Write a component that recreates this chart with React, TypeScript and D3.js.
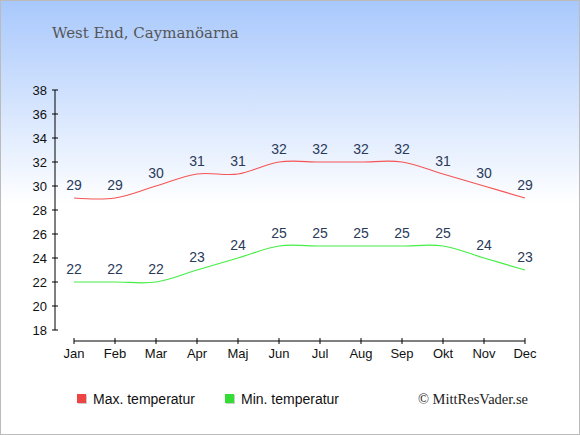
import * as d3 from 'd3';

const months = ['Jan', 'Feb', 'Mar', 'Apr', 'Maj', 'Jun', 'Jul', 'Aug', 'Sep', 'Okt', 'Nov', 'Dec'];
const maxTemp = [29, 29, 30, 31, 31, 32, 32, 32, 32, 31, 30, 29];
const minTemp = [22, 22, 22, 23, 24, 25, 25, 25, 25, 25, 24, 23];
const yTicks = [18, 20, 22, 24, 26, 28, 30, 32, 34, 36, 38];

export default function App() {
  const width = 580;
  const height = 435;

  const xScale = d3.scalePoint<string>().domain(months).range([74, 525]);
  const yScale = d3.scaleLinear().domain([18, 38]).range([330, 90]);

  const line = d3.line<number>()
    .x((_, i) => xScale(months[i])!)
    .y(d => yScale(d))
    .curve(d3.curveCardinal);

  const series = [
    { name: 'Max. temperatur', values: maxTemp, color: '#f55555', legend: '#ee4444', lx: 77 },
    { name: 'Min. temperatur', values: minTemp, color: '#44ee44', legend: '#33dd33', lx: 225 },
  ];

  return (
    <svg width={width} height={height} style={{ position: 'absolute', left: 0, top: 0 }}>
      <defs>
        <linearGradient id="bg" x1="0" y1="0" x2="0" y2="1">
          <stop offset="0" stopColor="#a8c8fc" />
          <stop offset="0.47" stopColor="#ffffff" />
          <stop offset="1" stopColor="#ffffff" />
        </linearGradient>
      </defs>
      <rect x={0.5} y={0.5} width={width - 1} height={height - 1} fill="url(#bg)" stroke="#bbbbbb" />

      {/* Title */}
      <text x={52} y={38} fontFamily="'DejaVu Serif', Georgia, serif" fontSize={15} fill="#555555">
        West End, Caymanöarna
      </text>

      {/* Y-axis */}
      <line x1={55} x2={55} y1={90} y2={330} stroke="#000" />
      {yTicks.map(t => (
        <g key={t}>
          <line x1={52} x2={58} y1={yScale(t)} y2={yScale(t)} stroke="#000" />
          <text x={47} y={yScale(t)} textAnchor="end" dominantBaseline="central"
            fontFamily="'Liberation Sans', Arial, sans-serif" fontSize={13} fill="#111">
            {t}
          </text>
        </g>
      ))}

      {/* X-axis */}
      <line x1={xScale('Jan')} x2={xScale('Dec')} y1={341} y2={341} stroke="#000" />
      {months.map(m => (
        <g key={m}>
          <line x1={xScale(m)} x2={xScale(m)} y1={338} y2={344} stroke="#000" />
          <text x={xScale(m)} y={353} textAnchor="middle" dominantBaseline="central"
            fontFamily="'Liberation Sans', Arial, sans-serif" fontSize={13} fill="#111">
            {m}
          </text>
        </g>
      ))}

      {/* Lines and labels */}
      {series.map(s => (
        <g key={s.name}>
          <path d={line(s.values) || ''} fill="none" stroke={s.color} strokeWidth={1.2} />
          {s.values.map((v, i) => (
            <text key={i} x={xScale(months[i])} y={yScale(v) - 13} textAnchor="middle"
              dominantBaseline="central" fontFamily="'Liberation Sans', Arial, sans-serif"
              fontSize={14} fill="#2a3a5a">
              {v}
            </text>
          ))}
        </g>
      ))}

      {/* Legend */}
      {series.map(s => (
        <g key={s.name}>
          <rect x={s.lx + 1} y={395} width={9} height={9} fill="#cccccc" />
          <rect x={s.lx} y={394} width={9} height={9} fill={s.legend} />
          <text x={s.lx + 16} y={398.5} dominantBaseline="central"
            fontFamily="'Liberation Sans', Arial, sans-serif" fontSize={14} fill="#111">
            {s.name}
          </text>
        </g>
      ))}

      <text x={528} y={398.5} textAnchor="end" dominantBaseline="central"
        fontFamily="'Liberation Serif', 'Times New Roman', serif" fontSize={14.5} fill="#222">
        © MittResVader.se
      </text>
    </svg>
  );
}
